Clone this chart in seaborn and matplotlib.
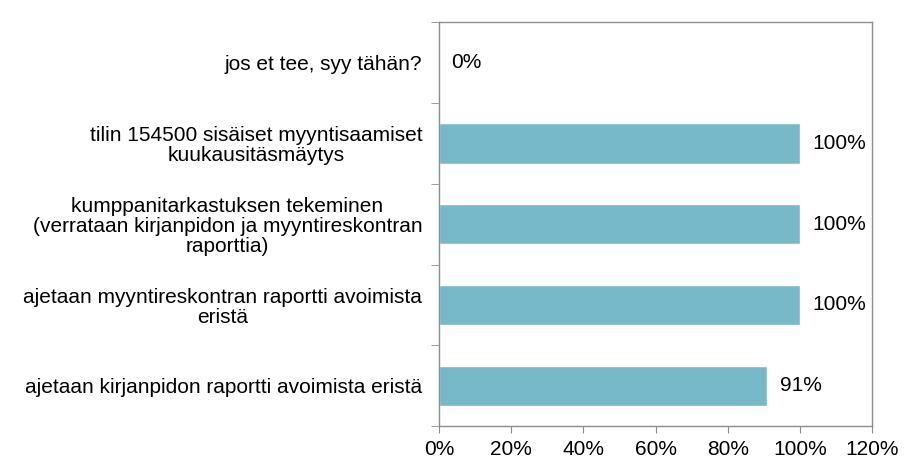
import pandas as pd
import seaborn as sns
import matplotlib.pyplot as plt
from matplotlib.ticker import FixedLocator, FuncFormatter

# Data
categories = [
    'jos et tee, syy tähän?',
    'tilin 154500 sisäiset myyntisaamiset\nkuukausitäsmäytys',
    'kumppanitarkastuksen tekeminen\n(verrataan kirjanpidon ja myyntireskontran\nraporttia)',
    'ajetaan myyntireskontran raportti avoimista\neristä',
    'ajetaan kirjanpidon raportti avoimista eristä',
]
shares = [0.0, 1.0, 1.0, 1.0, 0.91]
value_labels = ['0%', '100%', '100%', '100%', '91%']

df = pd.DataFrame({'category': categories, 'share': shares})

sns.set_style('white')
plt.rcParams['font.family'] = ['Liberation Sans', 'DejaVu Sans']
fs = 15

fig = plt.figure(figsize=(9.22, 4.73), dpi=100)
ax = fig.add_axes([0.476, 0.099, 0.47, 0.854])

sns.barplot(data=df, x='share', y='category', orient='h', color='#77b9c9',
            width=0.5, saturation=1, ax=ax)

# Value labels
for i, (v, lab) in enumerate(zip(shares, value_labels)):
    ax.text(v + 0.035, i, lab, va='center', ha='left', fontsize=fs, color='black')

ax.set_xlim(0, 1.2)
ax.set_ylim(4.5, -0.5)
ax.xaxis.set_major_locator(FixedLocator([0, 0.2, 0.4, 0.6, 0.8, 1.0, 1.2]))
ax.xaxis.set_major_formatter(FuncFormatter(lambda x, _: f'{x * 100:.0f}%'))

# Category labels centered between boundary ticks
ax.set_yticks(range(len(categories)))
ax.set_yticklabels(categories, multialignment='center', linespacing=1.05)
ax.yaxis.set_minor_locator(FixedLocator([-0.5, 0.5, 1.5, 2.5, 3.5, 4.5]))
ax.tick_params(axis='y', which='major', length=0, pad=12, labelsize=fs,
               labelcolor='black')
ax.tick_params(axis='y', which='minor', left=True, length=6, color='#8c8c8c')
ax.tick_params(axis='x', which='major', bottom=True, length=5, color='#8c8c8c',
               labelsize=fs, labelcolor='black', pad=5)

ax.set_xlabel('')
ax.set_ylabel('')
for side in ['left', 'right', 'top', 'bottom']:
    ax.spines[side].set_visible(True)
    ax.spines[side].set_color('#8c8c8c')
    ax.spines[side].set_linewidth(1)

fig.savefig('out.png', dpi=100)
